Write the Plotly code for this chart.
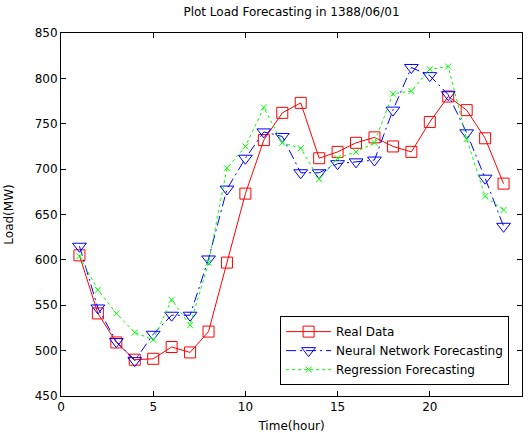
import plotly.graph_objects as go

hours = list(range(1, 25))
real_data = [605, 541, 509, 490, 491, 504, 498, 521, 597, 673, 732, 762,
             773, 712, 719, 729, 735, 725, 719, 752, 780, 765, 734, 684]
neural_net = [615, 547, 510, 489, 518, 539, 539, 601, 678, 712, 741, 736,
              696, 696, 706, 708, 710, 765, 812, 803, 782, 740, 690, 637]
regression = [604, 567, 541, 520, 512, 556, 528, 597, 701, 725, 768, 729,
              723, 689, 712, 719, 729, 783, 786, 810, 813, 733, 670, 655]

x_ticks = [0, 5, 10, 15, 20, 25]
y_ticks = [450, 500, 550, 600, 650, 700, 750, 800, 850]

FONT = "DejaVu Sans, Liberation Sans, Arial, sans-serif"

fig = go.Figure()
fig.add_trace(go.Scatter(
    x=hours, y=real_data, name="Real Data", mode="lines+markers",
    line=dict(color="#ff0000", width=1),
    marker=dict(symbol="square-open", size=11, color="#ff0000", line=dict(width=1))))
fig.add_trace(go.Scatter(
    x=hours, y=neural_net, name="Neural Network Forecasting", mode="lines+markers",
    line=dict(color="#0000ff", width=1, dash="10px,4px,2px,4px"),
    marker=dict(symbol="triangle-down-open", size=12, color="#0000ff", line=dict(width=1))))
fig.add_trace(go.Scatter(
    x=hours, y=regression, name="Regression Forecasting", mode="lines+markers",
    line=dict(color="#00ff00", width=1, dash="3px,3px"),
    marker=dict(symbol="x-thin-open", size=6, color="#00ff00", line=dict(width=1, color="#00ff00"))))

axis_common = dict(
    showgrid=False, zeroline=False, showline=True, linecolor="#000000", linewidth=1,
    mirror="allticks", ticks="inside", ticklen=5, tickcolor="#000000",
    tickfont=dict(family=FONT, size=12, color="#000000"),
    automargin=False,
)

fig.update_layout(
    width=528, height=433,
    margin=dict(l=61, r=6, t=33, b=37),
    paper_bgcolor="#ffffff", plot_bgcolor="#ffffff",
    font=dict(family=FONT, size=12, color="#000000"),
    title=dict(text="Plot Load Forecasting in 1388/06/01", x=0.5, xref="paper",
               y=1, yref="container", yanchor="top", pad=dict(t=8),
               font=dict(size=12, color="#000000"), automargin=False),
    xaxis=dict(range=[0, 25], tickvals=x_ticks,
               title=dict(text="Time(hour)", standoff=8, font=dict(size=12)), **axis_common),
    yaxis=dict(range=[450, 850], tickvals=y_ticks,
               title=dict(text="Load(MW)", standoff=18, font=dict(size=12)), **axis_common),
    legend=dict(x=0.972, y=0.03, xanchor="right", yanchor="bottom",
                bgcolor="#ffffff", bordercolor="#000000", borderwidth=1,
                font=dict(size=12), tracegroupgap=0, itemwidth=45),
    showlegend=True,
)

fig.write_html("out.html", config={"displayModeBar": False},
               post_script="document.body.style.margin='0';document.body.style.padding='0';")
